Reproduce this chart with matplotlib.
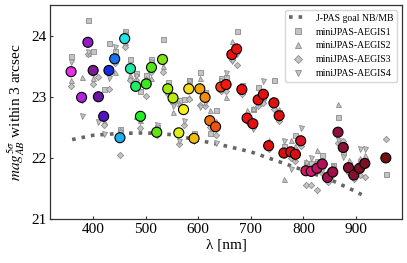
import numpy as np
import matplotlib
matplotlib.use('Agg')
import matplotlib.pyplot as plt
from matplotlib.colors import LinearSegmentedColormap
from matplotlib.lines import Line2D

plt.rcParams['font.family'] = 'Liberation Serif'
plt.rcParams['mathtext.fontset'] = 'stix'

# filter central wavelengths [nm]
wl = [358, 378, 390, 400, 410, 420, 430, 441, 451, 460,
      471, 481, 490, 501, 511, 521, 532, 542, 552, 563,
      572, 582, 592, 603, 613, 622, 633, 643, 653, 664,
      673, 683, 693, 704, 714, 724, 734, 744, 754, 763,
      776, 785, 795, 805, 815, 826, 836, 846, 856, 866,
      876, 886, 896, 907, 917, 957]

# combined depth (coloured circles)
depth = [23.41, 22.99, 23.89, 23.43, 23.00, 22.68, 23.43, 23.62, 22.33, 23.95,
         23.46, 23.17, 22.68, 23.21, 23.48, 22.42, 23.61, 23.13, 22.98, 22.41,
         22.79, 23.13, 22.32, 23.13, 22.99, 22.61, 22.51, 23.16, 23.20, 23.69,
         23.78, 23.12, 22.65, 22.56, 22.95, 23.04, 22.20, 22.90, 22.69, 22.08,
         22.10, 22.06, 22.28, 21.79, 21.78, 21.83, 21.90, 21.68, 21.77, 22.42,
         22.17, 21.84, 21.72, 21.83, 21.91, 22.00]

nan = np.nan
aegis1 = [23.67, 23.03, 24.25, 23.74, 23.03, 23.13, 23.88, 23.75, 22.48, 24.08,
          23.62, 23.39, 23.10, 23.35, 23.62, 22.50, 23.95, 23.24, 23.00, 22.94,
          22.96, 23.28, 22.40, 23.41, 23.08, 22.41, 22.79, 23.30, 23.33, 23.75,
          24.07, 23.20, 22.70, 22.80, 23.16, 23.00, 22.25, 23.28, 22.75, 22.20,
          22.15, 22.38, 22.30, 21.90, 21.91, 21.95, 22.05, 21.75, 21.89, 22.67,
          22.10, 21.90, 21.80, 21.95, 21.95, 21.73]
aegis2 = [23.28, 23.32, 23.72, 23.30, 23.05, 22.60, 23.45, 23.40, 22.45, 23.90,
          23.35, 22.69, 22.62, 23.30, 23.30, 22.45, 23.50, 23.20, 22.75, 22.90,
          22.85, 23.00, 22.35, 23.30, 23.00, 22.79, 22.60, 23.20, 22.99, 23.91,
          23.85, 23.10, 22.79, 22.81, 22.90, 22.95, 22.30, 22.85, 22.80, 21.66,
          22.30, 22.20, 22.35, 21.95, 21.85, 22.13, 21.95, 21.80, 21.88, 22.88,
          22.20, 21.96, 21.85, 22.00, 22.05, nan]
aegis3 = [23.18, 22.94, 23.70, 23.21, 23.33, 22.54, 23.12, 23.55, 22.05, 23.81,
          23.28, 23.28, 22.49, 23.02, 23.40, 22.38, 23.40, 23.05, 22.90, 22.22,
          22.54, 22.96, 22.30, 22.87, 22.85, 22.50, 22.38, 23.10, 23.10, 23.60,
          23.52, 23.05, 22.60, 22.50, 22.85, 22.90, 22.15, 22.80, 22.60, 22.05,
          22.00, 21.95, 22.20, 21.56, 21.56, 21.48, 21.75, 21.61, 21.75, 22.25,
          22.27, 21.75, 21.65, 21.72, 21.68, 22.31]
aegis4 = [23.56, 22.68, 23.73, 23.38, 22.58, 22.39, 23.30, 23.81, 22.42, 24.03,
          23.40, 23.34, 22.60, 23.25, 23.57, 22.53, 23.55, 23.10, 22.85, 22.28,
          22.60, 23.25, 22.28, 22.84, 22.90, 22.55, 22.24, 23.25, 23.39, 23.58,
          23.70, 23.15, 22.58, 22.48, 22.90, 23.25, 22.18, 22.95, 22.65, 22.27,
          21.82, 22.00, 22.49, 21.91, 22.00, 21.90, 21.80, 21.70, 21.72, 22.30,
          22.02, 21.80, 21.75, 22.15, 22.15, nan]

# J-PAS goal depth for narrow/medium bands
goal_wl = [360, 400, 450, 500, 550, 600, 650, 700, 750, 800, 850, 900, 911]
goal_mag = [22.30, 22.37, 22.40, 22.41, 22.38, 22.29, 22.20, 22.10, 21.95, 21.80, 21.65, 21.45, 21.40]

series = [('miniJPAS-AEGIS1', 's', aegis1),
          ('miniJPAS-AEGIS2', '^', aegis2),
          ('miniJPAS-AEGIS3', 'D', aegis3),
          ('miniJPAS-AEGIS4', 'v', aegis4)]

cmap = LinearSegmentedColormap.from_list('jpas', [
    (0.00, '#e630e6'), (0.04, '#a020e0'), (0.07, '#761a86'), (0.10, '#5a12c0'),
    (0.12, '#1030e8'), (0.15, '#18a8f0'), (0.17, '#20e8e8'), (0.19, '#20e8a0'),
    (0.22, '#20f020'), (0.28, '#70e010'), (0.33, '#c8f010'), (0.36, '#f8f020'),
    (0.39, '#f0c010'), (0.43, '#f08010'), (0.47, '#f04010'), (0.50, '#f01010'),
    (0.72, '#d41010'), (0.76, '#d81878'), (0.80, '#b01058'), (0.86, '#8a1038'),
    (1.00, '#701010')])

fig = plt.figure(figsize=(4.07, 2.63), dpi=100)
ax = fig.add_axes([0.123, 0.167, 0.865, 0.814])

ax.plot(goal_wl, goal_mag, ':', color='#666666', lw=2.6, zorder=2)

for label, mk, vals in series:
    ax.plot(wl, vals, mk, ls='none', ms=3.6 if mk != 'D' else 3.2,
            mfc='#c4c4c4', mec='#8c8c8c', mew=0.6, zorder=3)

norm = (np.array(wl) - min(wl)) / (max(wl) - min(wl))
ax.scatter(wl, depth, s=52, c=cmap(norm), edgecolors='black', linewidths=0.8, zorder=4)

ax.set_xlim(318, 988)
ax.set_ylim(21, 24.5)
ax.set_xticks([400, 500, 600, 700, 800, 900])
ax.set_yticks([21, 22, 23, 24])
ax.tick_params(labelsize=11, direction='in', length=2.5, width=0.8, pad=2.5,
               colors='#333333', labelcolor='black')
for sp in ax.spines.values():
    sp.set_color('#333333')
    sp.set_linewidth(0.9)

ax.set_xlabel('λ [nm]', fontsize=11, labelpad=2)
ax.set_ylabel(r'$mag_{AB}^{5\sigma}$ within 3 arcsec', fontsize=11, labelpad=3)

handles = [Line2D([], [], ls=':', color='#666666', lw=2.6)]
for label, mk, vals in series:
    handles.append(Line2D([], [], marker=mk, ls='none', ms=4.5,
                          mfc='#c4c4c4', mec='#8c8c8c', mew=0.6))
labels = ['J-PAS goal NB/MB'] + [s[0] for s in series]
ax.legend(handles, labels, loc='upper right', fontsize=7, frameon=True,
          borderpad=0.4, labelspacing=0.5, handlelength=2.0, handletextpad=0.8)

fig.savefig('out.png', dpi=100)
